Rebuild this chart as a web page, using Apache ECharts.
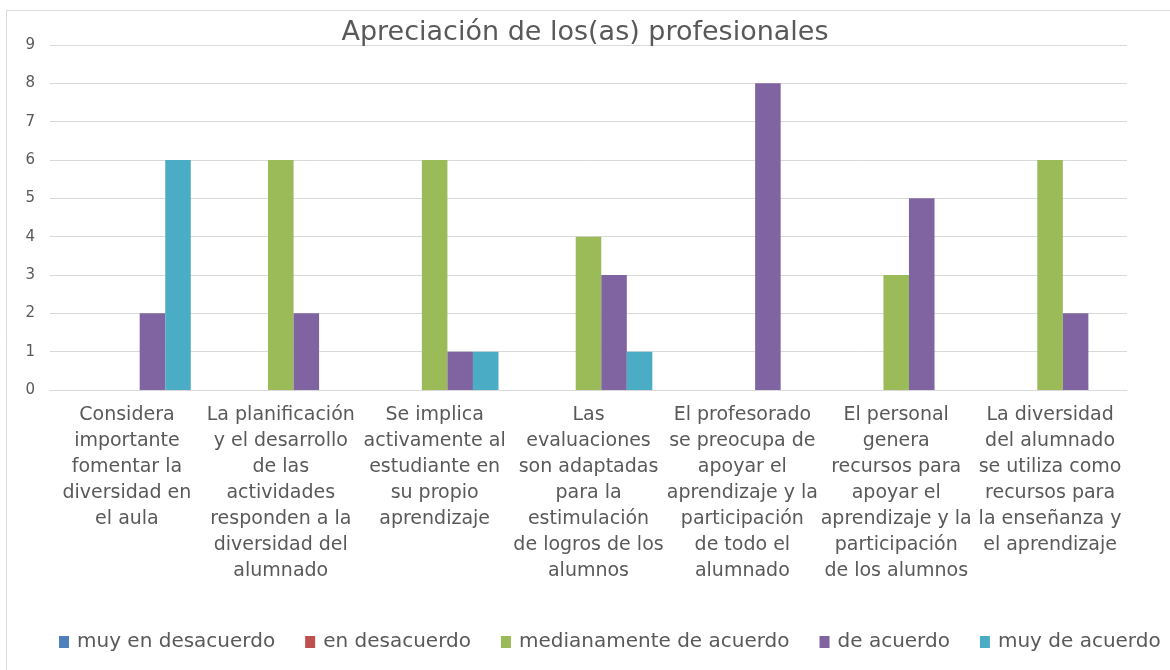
<!DOCTYPE html>
<html>
<head>
<meta charset="utf-8">
<script src="https://cdn.jsdelivr.net/npm/echarts@6/dist/echarts.min.js"></script>
<style>
  html, body { margin: 0; padding: 0; background: #fff; }
  #chart { width: 1170px; height: 670px; }
</style>
</head>
<body>
<div id="chart"></div>
<script>
const categories = [
  'Considera\nimportante\nfomentar la\ndiversidad en\nel aula',
  'La planificación\ny el desarrollo\nde las\nactividades\nresponden a la\ndiversidad del\nalumnado',
  'Se implica\nactivamente al\nestudiante en\nsu propio\naprendizaje',
  'Las\nevaluaciones\nson adaptadas\npara la\nestimulación\nde logros de los\nalumnos',
  'El profesorado\nse preocupa de\napoyar el\naprendizaje y la\nparticipación\nde todo el\nalumnado',
  'El personal\ngenera\nrecursos para\napoyar el\naprendizaje y la\nparticipación\nde los alumnos',
  'La diversidad\ndel alumnado\nse utiliza como\nrecursos para\nla enseñanza y\nel aprendizaje'
];
const seriesNames = ['muy en desacuerdo', 'en desacuerdo', 'medianamente de acuerdo', 'de acuerdo', 'muy de acuerdo'];
const muyEnDesacuerdo = [0, 0, 0, 0, 0, 0, 0];
const enDesacuerdo = [0, 0, 0, 0, 0, 0, 0];
const medianamente = [0, 6, 6, 4, 0, 3, 6];
const deAcuerdo = [2, 2, 1, 3, 8, 5, 2];
const muyDeAcuerdo = [6, 0, 1, 1, 0, 0, 0];
const colors = ['#4F81BD', '#C0504D', '#9BBB59', '#8064A2', '#4BACC6'];

const allValues = [muyEnDesacuerdo, enDesacuerdo, medianamente, deAcuerdo, muyDeAcuerdo];
const font = '"DejaVu Sans", "Open Sans", sans-serif';

const chart = echarts.init(document.getElementById('chart'));
chart.setOption({
  animation: false,
  color: colors,
  title: {
    text: 'Apreciación de los(as) profesionales',
    left: 'center',
    top: 14,
    textStyle: { fontFamily: font, fontSize: 27, fontWeight: 'normal', color: '#595959' }
  },
  legend: {
    bottom: 13,
    left: 54,
    itemWidth: 10,
    itemHeight: 12,
    itemGap: 30,
    icon: 'rect',
    textStyle: { fontFamily: font, fontSize: 20, color: '#595959', padding: [0, 0, 0, 3] },
    data: seriesNames
  },
  graphic: [{
    type: 'rect',
    shape: { x: 6.5, y: 10.5, width: 1200, height: 700 },
    style: { fill: 'none', stroke: '#d9d9d9', lineWidth: 1 },
    silent: true
  }],
  grid: { left: 50, right: 43, top: 45, bottom: 280 },
  xAxis: {
    type: 'category',
    data: categories,
    axisTick: { show: false },
    axisLine: { lineStyle: { color: '#d9d9d9' } },
    axisLabel: {
      interval: 0,
      margin: 12,
      fontFamily: font,
      fontSize: 19,
      lineHeight: 26,
      color: '#595959',
      verticalAlign: 'top'
    }
  },
  yAxis: {
    type: 'value',
    min: 0,
    max: 9,
    interval: 1,
    axisLine: { show: false },
    axisTick: { show: false },
    splitLine: { lineStyle: { color: '#d9d9d9' } },
    axisLabel: { fontFamily: font, fontSize: 15, color: '#595959', margin: 15 }
  },
  series: seriesNames.map((name, i) => ({
    name: name,
    type: 'bar',
    data: allValues[i],
    barGap: '0%',
    barCategoryGap: '17%'
  }))
});
</script>
</body>
</html>
